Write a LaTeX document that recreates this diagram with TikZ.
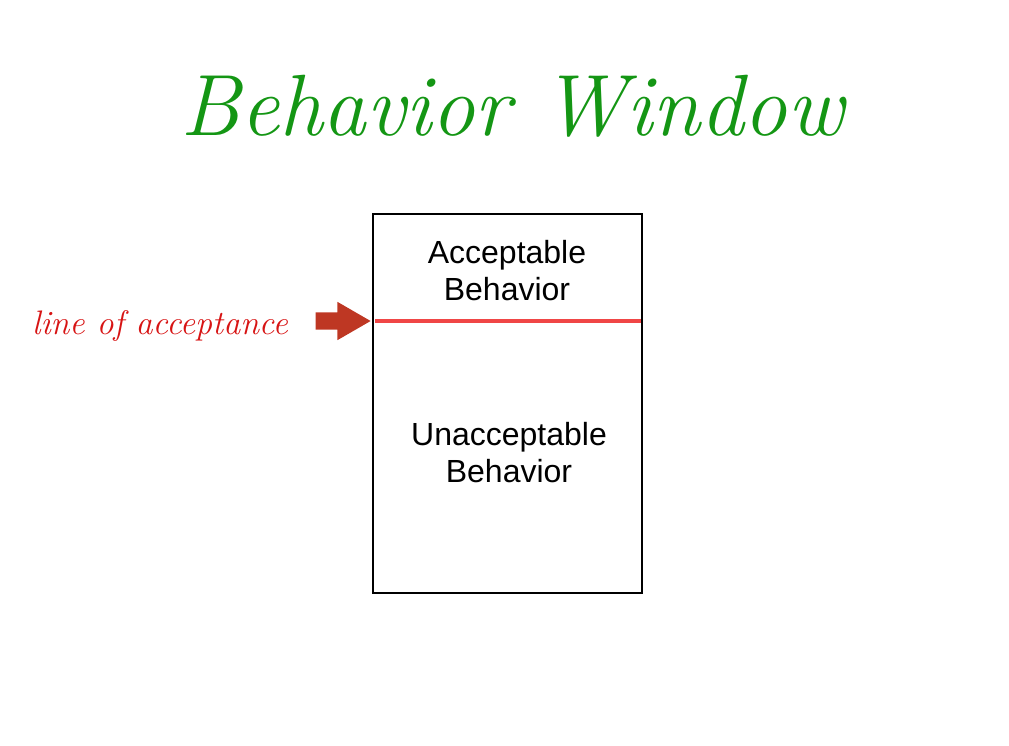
\documentclass[tikz,border=0pt]{standalone}
\usepackage{fontspec}
\setsansfont{Liberation Sans}
\usetikzlibrary{shapes.arrows, positioning}
\definecolor{titlegreen}{RGB}{20,150,20}
\definecolor{linered}{RGB}{240,70,70}
\definecolor{arrowred}{RGB}{190,55,35}
\definecolor{notered}{RGB}{215,20,20}

\begin{document}
\begin{tikzpicture}[
    x=1pt, y=-1pt,
    window/.style={rectangle, draw, line width=2pt, minimum width=269pt, minimum height=379pt},
    boxtext/.style={align=center, font=\sffamily\fontsize{32}{37}\selectfont},
    pointer/.style={single arrow, fill=arrowred, draw=none, minimum height=55pt, minimum width=38pt, inner sep=8.5pt, single arrow tip angle=60, single arrow head extend=10.5pt},
    note/.style={text=notered, font=\rmfamily\itshape\fontsize{34}{38}\selectfont}
]
    \useasboundingbox (0,0) rectangle (1009,746);

    \node (title) [text=titlegreen, font=\rmfamily\itshape\fontsize{87}{96}\selectfont] at (512,106) {Behavior Window};

    \node (window) [window] at (507.5,403.5) {};
    \node (upper) [boxtext] at (507,271) {Acceptable\\Behavior};
    \node (lower) [boxtext] at (509,453) {Unacceptable\\Behavior};

    \coordinate (accL) at (375,321);
    \coordinate (accR) at (641,321);
    \draw [linered, line width=4pt] (accL) -- (accR);

    \node (pointer) [pointer, anchor=tip] at ([xshift=-4pt]accL) {};
    \node (lineof) [note, left=24pt of pointer, yshift=-5pt] {line of acceptance};
\end{tikzpicture}
\end{document}
